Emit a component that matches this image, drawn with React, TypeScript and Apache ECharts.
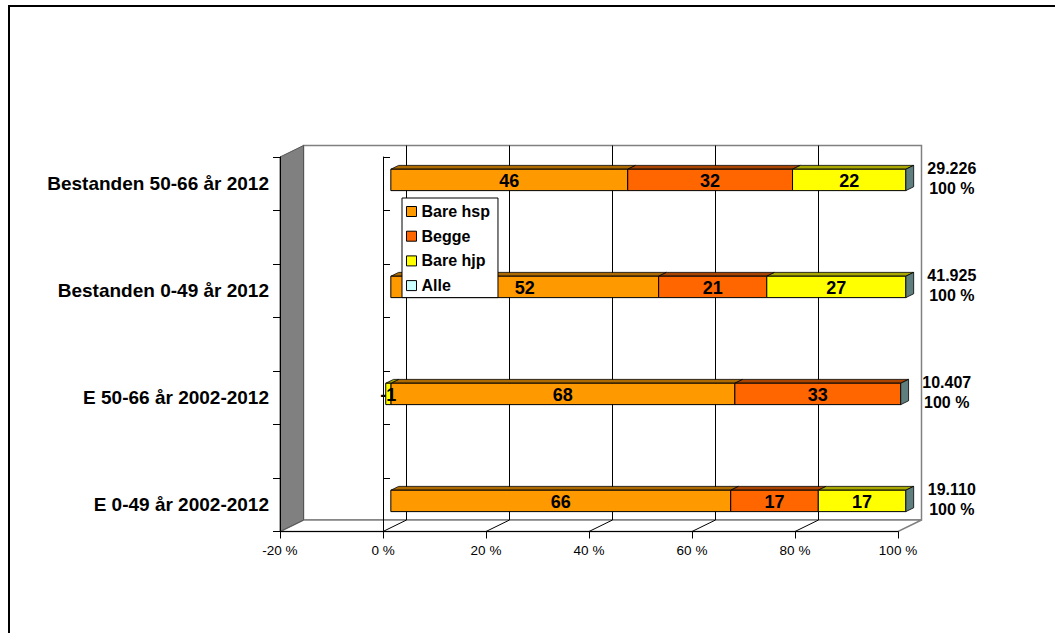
import React, { useEffect, useRef } from "react";
import * as echarts from "echarts";

// ---- data ----
const categories = [
  "Bestanden 50-66 år 2012",
  "Bestanden 0-49 år 2012",
  "E 50-66 år 2002-2012",
  "E 0-49 år 2002-2012",
];
const seriesNames = ["Bare hsp", "Begge", "Bare hjp", "Alle"];
const bareHsp = [46, 52, 67.6, 66];
const begge = [32, 21, 32.6, 17];
const bareHjp = [22, 27, -1, 17];
const alle = [0, 0, 0, 0];
const totals = [29226, 41925, 10407, 19110];
const valueTicks = [-20, 0, 20, 40, 60, 80, 100];

// ---- styles ----
const FRONT = ["#FF9900", "#FF6600", "#FFFF00", "#CCFFFF"];
const TOP = ["#AD6A00", "#A84300", "#A8A800", "#7FA0A0"];
const SIDE = ["#7F4C00", "#7F3300", "#7F7F00", "#5F7F7F"];
const FONT = '"Liberation Sans", Arial, Helvetica, sans-serif';
const DX = 23.5;
const DY = -11.5;
const BDX = DX / 3;
const BDY = DY / 3;

const seriesValues = [bareHsp, begge, bareHjp, alle];
// blank categories between the real ones (as in the source sheet)
const axisCats: string[] = [];
categories.forEach((c, i) => {
  axisCats.push(c);
  if (i < categories.length - 1) axisCats.push(" ".repeat(i + 1));
});

// 100 % stacking (share of the sum of absolute values)
const stacked: number[][][] = seriesValues.map(() => []);
const stackEnd: number[] = [];
categories.forEach((_, i) => {
  const abs = seriesValues.reduce((a, arr) => a + Math.abs(arr[i]), 0);
  let pos = 0;
  let neg = 0;
  seriesValues.forEach((arr, s) => {
    const pct = (arr[i] / abs) * 100;
    if (pct >= 0) {
      stacked[s].push([i * 2, pos, pos + pct, arr[i]]);
      pos += pct;
    } else {
      stacked[s].push([i * 2, neg + pct, neg, arr[i]]);
      neg += pct;
    }
  });
  stackEnd.push(pos);
});

function fmtThousands(n: number) {
  return String(n).replace(/\B(?=(\d{3})+(?!\d))/g, ".");
}

function barRenderer(s: number) {
  return (params: any, api: any) => {
    const cat = api.value(0);
    const st = api.value(1);
    const en = api.value(2);
    const raw = api.value(3);
    const p0 = api.coord([st, cat]);
    const p1 = api.coord([en, cat]);
    const h = api.size([0, 1])[1] * 0.4;
    const x0 = p0[0] + BDX;
    const x1 = p1[0] + BDX;
    const yt = p0[1] - h / 2 + BDY;
    const yb = p0[1] + h / 2 + BDY;
    const children: any[] = [];
    if (en - st > 0) {
      children.push({
        type: "polygon",
        shape: { points: [[x0, yt], [x0 + BDX, yt + BDY], [x1 + BDX, yt + BDY], [x1, yt]] },
        style: { fill: TOP[s], stroke: "#000", lineWidth: 0.8 },
      });
      children.push({
        type: "rect",
        shape: { x: x0, y: yt, width: x1 - x0, height: yb - yt },
        style: { fill: FRONT[s], stroke: "#000", lineWidth: 1 },
      });
    }
    if (s === 3) {
      children.push({
        type: "polygon",
        shape: { points: [[x1, yt], [x1 + BDX, yt + BDY], [x1 + BDX, yb + BDY], [x1, yb]] },
        style: { fill: SIDE[s], stroke: "#000", lineWidth: 0.8 },
      });
    }
    if (raw !== 0) {
      children.push({
        type: "text",
        style: {
          text: String(Math.round(raw)),
          x: (x0 + x1) / 2,
          y: (yt + yb) / 2 + 1,
          align: "center",
          verticalAlign: "middle",
          fontSize: 18,
          fontWeight: "bold",
          fontFamily: FONT,
          fill: "#000",
        },
      });
    }
    return { type: "group", children };
  };
}

function frameRenderer(params: any, api: any) {
  const cs = params.coordSys;
  const L = cs.x;
  const R = cs.x + cs.width;
  const T = cs.y;
  const B = cs.y + cs.height;
  const children: any[] = [];
  children.push({
    type: "rect",
    shape: { x: L + DX, y: T + DY, width: cs.width, height: cs.height },
    style: { fill: "#fff", stroke: "#808080", lineWidth: 1.5 },
  });
  children.push({
    type: "polygon",
    shape: { points: [[L, B], [L + DX, B + DY], [R + DX, B + DY], [R, B]] },
    style: { fill: "#fff", stroke: "#808080", lineWidth: 1.5 },
  });
  valueTicks.forEach((v, k) => {
    if (k === 0 || k === valueTicks.length - 1) return;
    const x = api.coord([v, 0])[0];
    children.push({
      type: "line",
      shape: { x1: x + DX, y1: T + DY, x2: x + DX, y2: B + DY },
      style: { stroke: "#000", lineWidth: 1 },
    });
    children.push({
      type: "line",
      shape: { x1: x, y1: B, x2: x + DX, y2: B + DY },
      style: { stroke: "#000", lineWidth: 1 },
    });
  });
  children.push({
    type: "polygon",
    shape: { points: [[L, T], [L + DX, T + DY], [L + DX, B + DY], [L, B]] },
    style: { fill: "#808080", stroke: "#555", lineWidth: 1 },
  });
  return { type: "group", children };
}

function totalsRenderer(params: any, api: any) {
  const cat = api.value(0);
  const end = api.value(1);
  const tot = api.value(2);
  const p = api.coord([end, cat]);
  return {
    type: "text",
    style: {
      text: fmtThousands(tot) + "\n100 %",
      x: p[0] + BDX + 46,
      y: p[1] - 5.5,
      align: "center",
      verticalAlign: "middle",
      fontSize: 16,
      fontWeight: "bold",
      fontFamily: FONT,
      lineHeight: 20.5,
      fill: "#000",
    },
  };
}

export default function App() {
  const ref = useRef<HTMLDivElement>(null);
  useEffect(() => {
    if (!ref.current) return;
    const chart = echarts.init(ref.current, undefined, { renderer: "svg" });
    const option: any = {
      animation: false,
      backgroundColor: "#fff",
      textStyle: { fontFamily: FONT },
      graphic: [
        {
          type: "rect",
          z: 100,
          shape: { x: 9, y: 6, width: 1300, height: 900 },
          style: { fill: "none", stroke: "#000", lineWidth: 2 },
        },
      ],
      grid: { left: 280, right: 157, top: 157, bottom: 101.5, containLabel: false },
      xAxis: {
        type: "value",
        min: -20,
        max: 100,
        interval: 20,
        z: 3,
        axisLine: { show: true, onZero: false, lineStyle: { color: "#000", width: 1 } },
        axisTick: { show: true, length: 7, lineStyle: { color: "#000" } },
        axisLabel: { formatter: "{value} %", fontSize: 13.5, color: "#000", margin: 12, fontFamily: FONT },
        splitLine: { show: false },
      },
      yAxis: [
        {
          type: "category",
          inverse: true,
          data: axisCats,
          z: 3,
          axisLine: { show: true, onZero: false, lineStyle: { color: "#000", width: 1 } },
          axisTick: { show: true, length: 7, lineStyle: { color: "#000" } },
          axisLabel: { fontSize: 19, fontWeight: "bold", color: "#000", margin: 11, fontFamily: FONT },
          splitLine: { show: false },
        },
        {
          type: "category",
          inverse: true,
          data: axisCats,
          z: 3,
          axisLine: { show: true, onZero: true, lineStyle: { color: "#000", width: 1 } },
          axisTick: { show: true, length: 7, lineStyle: { color: "#000" } },
          axisLabel: { show: false },
          splitLine: { show: false },
        },
      ],
      legend: {
        orient: "vertical",
        left: 402,
        top: 198,
        padding: [5.5, 8, 4, 4],
        itemGap: 8.7,
        itemWidth: 10,
        itemHeight: 10,
        backgroundColor: "#fff",
        borderColor: "#000",
        borderWidth: 1,
        borderRadius: 0,
        selectedMode: false,
        textStyle: { fontSize: 16, fontWeight: "bold", color: "#000", lineHeight: 16, fontFamily: FONT },
        data: seriesNames.map((n, i) => ({
          name: n,
          icon: "rect",
          itemStyle: { color: FRONT[i], borderColor: "#000", borderWidth: 1 },
        })),
      },
      series: [
        {
          type: "custom",
          name: "frame",
          z: 1,
          silent: true,
          data: [[0, 0]],
          encode: { x: 0, y: 1 },
          renderItem: frameRenderer,
        },
        ...seriesNames.map((n, s) => ({
          type: "custom",
          name: n,
          z: 2,
          itemStyle: { color: FRONT[s] },
          data: stacked[s],
          encode: { x: [1, 2], y: 0 },
          renderItem: barRenderer(s),
        })),
        {
          type: "custom",
          name: "totals",
          z: 3,
          data: totals.map((t, i) => [i * 2, stackEnd[i], t]),
          encode: { x: 1, y: 0 },
          renderItem: totalsRenderer,
        },
      ],
    };
    chart.setOption(option);
    return () => chart.dispose();
  }, []);
  return (
    <div
      ref={ref}
      style={{ position: "fixed", left: 0, top: 0, width: 1055, height: 633, background: "#fff" }}
    />
  );
}
